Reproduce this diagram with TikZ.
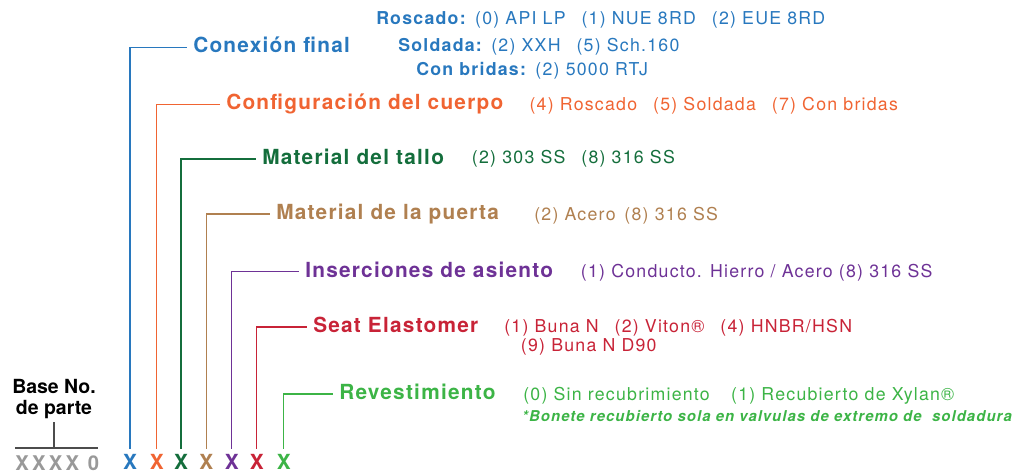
\documentclass[tikz,border=0pt]{standalone}
\usepackage{fontspec}
\setmainfont{TeX Gyre Heros}

\definecolor{azul}{HTML}{2878BE}
\definecolor{naranja}{HTML}{F06432}
\definecolor{verdeo}{HTML}{146E3C}
\definecolor{tostado}{HTML}{B08050}
\definecolor{morado}{HTML}{6E3296}
\definecolor{rojo}{HTML}{C82337}
\definecolor{verdec}{HTML}{3CB446}
\definecolor{gris}{HTML}{999999}

\newcommand{\hueco}{\hspace{0.9em}}

\begin{document}
\begin{tikzpicture}[x = 0.75pt, y = -0.75pt,
		titulo/.style = {font = \fontsize{15.6}{18}\selectfont\bfseries\addfontfeature{LetterSpace=6}, anchor = west, text height = 11.2pt, text depth = 3.1pt, inner xsep = 4.5pt, inner ysep = 0pt},
		opcion/.style = {font = \fontsize{13.3}{16}\selectfont\addfontfeature{LetterSpace=7}, anchor = base west, inner sep = 0pt},
		letra/.style = {font = \fontsize{15.6}{18}\selectfont\bfseries, text height = 11.2pt, text depth = 0pt, inner xsep = 0pt, inner ysep = 4.5pt},
		guia/.style = {line width = 1pt}]
			\useasboundingbox (0, 0) rectangle (1030, 474);
			% base del numero de parte
			\node[anchor = south, align = center, inner sep = 2pt, font = \fontsize{14.6}{15.8}\selectfont\bfseries] (base) at (54, 422) {Base No.\\de parte};
			\node[letra, gris, anchor = west, font = \fontsize{15.2}{18}\selectfont\bfseries\addfontfeature{LetterSpace=16}] (xxxx) at (15, 463) {XXXX 0};
			\coordinate (bi) at (15, 448);
			\coordinate (bd) at (98, 448);
			\draw[guia, black!70] (bi) -- (bd);
			\draw[guia, black!70] (base.south) -- (base.south |- bi);
			% letras del codigo
			\node[letra, azul] (x1) at (130, 462.5) {X};
			\node[letra, naranja] (x2) at (156.7, 462.5) {X};
			\node[letra, verdeo] (x3) at (181, 462.5) {X};
			\node[letra, tostado] (x4) at (206.3, 462.5) {X};
			\node[letra, morado] (x5) at (231.7, 462.5) {X};
			\node[letra, rojo] (x6) at (256.7, 462.5) {X};
			\node[letra, verdec] (x7) at (283.7, 462.5) {X};
			% titulos
			\node[titulo, azul] (conexion) at (187, 47.5) {Conexión final};
			\node[titulo, naranja] (cuerpo) at (220, 104.3) {Configuración del cuerpo};
			\node[titulo, verdeo] (tallo) at (256, 159) {Material del tallo};
			\node[titulo, tostado] (puerta) at (270, 214) {Material de la puerta};
			\node[titulo, morado] (asiento) at (299, 271.7) {Inserciones de asiento};
			\node[titulo, rojo] (elastomero) at (307, 327) {Seat Elastomer};
			\node[titulo, verdec] (revest) at (333, 394) {Revestimiento};
			% lineas guia
			\draw[guia, azul] (x1.north) |- (conexion.west);
			\draw[guia, naranja] (x2.north) |- (cuerpo.west);
			\draw[guia, verdeo] (x3.north) |- (tallo.west);
			\draw[guia, tostado] (x4.north) |- (puerta.west);
			\draw[guia, morado] (x5.north) |- (asiento.west);
			\draw[guia, rojo] (x6.north) |- (elastomero.west);
			\draw[guia, verdec] (x7.north) |- (revest.west);
			% opciones
			\node[opcion, azul] (roscado) at (376, 25) {\textbf{Roscado:} (0) API LP\hueco(1) NUE 8RD\hueco(2) EUE 8RD};
			\node[opcion, azul] (soldada) at (398, 51.7) {\textbf{Soldada:} (2) XXH\hueco(5) Sch.160};
			\node[opcion, azul] (bridas) at (416, 76) {\textbf{Con bridas:} (2) 5000 RTJ};
			\node[opcion, naranja] (cuerpoop) at (529.3, 111) {(4) Roscado\hueco(5) Soldada\hueco(7) Con bridas};
			\node[opcion, verdeo] (talloop) at (471.7, 163.3) {(2) 303 SS\hueco(8) 316 SS};
			\node[opcion, tostado] (puertaop) at (534, 220.7) {(2) Acero\hspace{0.5em}(8) 316 SS};
			\node[opcion, morado] (asientoop) at (580.7, 277) {(1) Conducto. Hierro / Acero (8) 316 SS};
			\node[opcion, rojo] (elastop) at (504, 332.7) {(1) Buna N\hueco(2) Viton®\hueco(4) HNBR/HSN};
			\node[opcion, rojo] (elastopb) at (520.7, 351.7) {(9) Buna N D90};
			\node[opcion, verdec] (revestop) at (523, 400.3) {(0) Sin recubrimiento\hspace{1.2em}(1) Recubierto de Xylan®};
			\node[opcion, verdec, font = \fontsize{11.2}{13}\selectfont\bfseries\itshape\addfontfeature{LetterSpace=7}] (nota) at (522, 421.7) {*Bonete recubierto sola en valvulas de extremo de\ \ soldadura};
		\end{tikzpicture}
\end{document}
